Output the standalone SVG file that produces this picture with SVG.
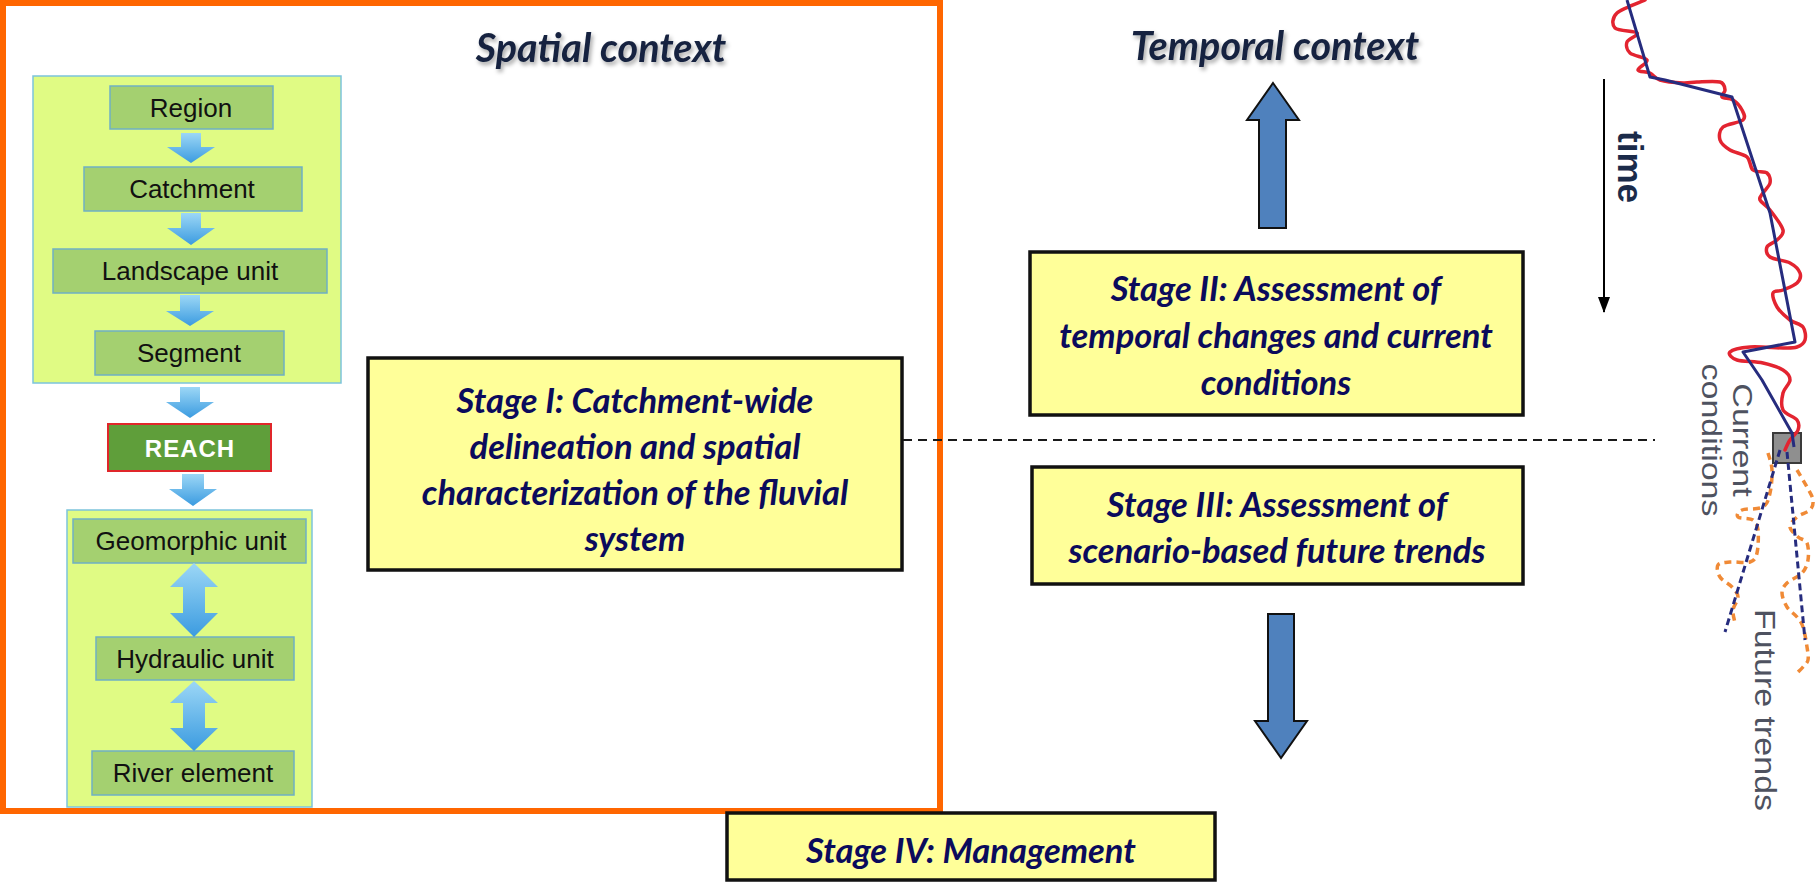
<svg xmlns="http://www.w3.org/2000/svg" width="1816" height="883" viewBox="0 0 1816 883">
  <style>
    .frame { fill: none; stroke: #ff6600; stroke-width: 6; }
    .panel { fill: #e0fb84; stroke: #7cc4dc; stroke-width: 1.5; }
    .unit { fill: #a4d070; stroke: #6fb0c4; stroke-width: 1.5; }
    .unit-text { font-family: "Liberation Sans", Arial, sans-serif; font-size: 26px; fill: #111; text-anchor: middle; }
    .reach { fill: #5f9e3a; stroke: #e0262a; stroke-width: 2; }
    .reach-text { font-family: "Liberation Sans", Arial, sans-serif; font-size: 24px; font-weight: bold; fill: #fff; text-anchor: middle; letter-spacing: 1px; }
    .stage { fill: #ffff99; stroke: #111; stroke-width: 3.5; }
    .stage-text { font-family: "Lato", "Open Sans", sans-serif; font-style: italic; font-weight: bold; font-size: 34.5px; fill: #0b0b5c; text-anchor: middle; }
    .title { font-family: "Lato", "Open Sans", sans-serif; font-style: italic; font-weight: bold; font-size: 39.5px; fill: #17243f; text-anchor: middle; }
    .blue-arrow { fill: url(#flow); }
    .big-arrow { fill: #4f81bd; stroke: #111; stroke-width: 2; }
    .divider { fill: none; stroke: #1a1a1a; stroke-width: 2; stroke-dasharray: 9 6; }
    .time-label { font-family: "Liberation Sans", Arial, sans-serif; font-weight: bold; font-size: 35px; fill: #1b2b4a; }
    .graph-label { font-family: "Liberation Sans", Arial, sans-serif; font-size: 34px; fill: #4e5260; text-anchor: middle; }
    .observed { fill: none; stroke: #e32430; stroke-width: 3.5; stroke-linecap: round; stroke-linejoin: round; }
    .trend { fill: none; stroke: #262c7e; stroke-width: 3; stroke-linejoin: round; }
    .scenario { fill: none; stroke: #f08a36; stroke-width: 3.5; stroke-dasharray: 7 5; }
    .scenario-trend { fill: none; stroke: #262c7e; stroke-width: 3; stroke-dasharray: 7 4; }
  </style>
  <defs>
    <linearGradient id="flow" x1="0" y1="0" x2="0" y2="1">
      <stop offset="0" stop-color="#9cd7f6"/>
      <stop offset="1" stop-color="#3b9be0"/>
    </linearGradient>
    <filter id="shadow" x="-10%" y="-30%" width="120%" height="160%">
      <feDropShadow dx="2" dy="3" stdDeviation="2" flood-color="#000" flood-opacity="0.35"/>
    </filter>
    <marker id="arrowhead" markerWidth="16" markerHeight="12" refX="15" refY="6" orient="auto" markerUnits="userSpaceOnUse" viewBox="0 0 16 12">
      <path d="M0,0 L16,6 L0,12 Z" fill="#000"/>
    </marker>
  </defs>

  <rect width="1816" height="883" fill="#fff"/>

  <!-- spatial frame -->
  <rect class="frame" x="3" y="3" width="937" height="808"/>

  <!-- titles -->
  <text class="title" x="601" y="62" filter="url(#shadow)">Spatial context</text>
  <text class="title" x="1275" y="60" filter="url(#shadow)">Temporal context</text>

  <!-- panels of nested scales -->
  <rect class="panel" x="33" y="76" width="308" height="307"/>
  <rect class="panel" x="67" y="510" width="245" height="297"/>

  <!-- hierarchy units -->
  <g id="region">
    <rect class="unit" x="110" y="86" width="163" height="43"/>
    <text class="unit-text" x="191" y="117">Region</text>
  </g>
  <g id="catchment">
    <rect class="unit" x="84" y="167" width="218" height="44"/>
    <text class="unit-text" x="192" y="198">Catchment</text>
  </g>
  <g id="landscape-unit">
    <rect class="unit" x="53" y="249" width="274" height="44"/>
    <text class="unit-text" x="190" y="280">Landscape unit</text>
  </g>
  <g id="segment">
    <rect class="unit" x="95" y="331" width="189" height="44"/>
    <text class="unit-text" x="189" y="362">Segment</text>
  </g>
  <g id="reach">
    <rect class="reach" x="108" y="424" width="163" height="47"/>
    <text class="reach-text" x="190" y="457">REACH</text>
  </g>
  <g id="geomorphic-unit">
    <rect class="unit" x="73" y="519" width="233" height="44"/>
    <text class="unit-text" x="191" y="550">Geomorphic unit</text>
  </g>
  <g id="hydraulic-unit">
    <rect class="unit" x="96" y="637" width="198" height="43"/>
    <text class="unit-text" x="195" y="668">Hydraulic unit</text>
  </g>
  <g id="river-element">
    <rect class="unit" x="92" y="751" width="202" height="44"/>
    <text class="unit-text" x="193" y="782">River element</text>
  </g>

  <!-- assessment stages -->
  <g id="stage-1">
    <rect class="stage" x="368" y="358" width="534" height="212"/>
    <text class="stage-text" x="635" y="413">Stage I: Catchment-wide</text>
    <text class="stage-text" x="635" y="459">delineation and spatial</text>
    <text class="stage-text" x="635" y="505">characterization of the fluvial</text>
    <text class="stage-text" x="635" y="551">system</text>
  </g>
  <g id="stage-2">
    <rect class="stage" x="1030" y="252" width="493" height="163"/>
    <text class="stage-text" x="1276" y="301">Stage II: Assessment of</text>
    <text class="stage-text" x="1276" y="348">temporal changes and current</text>
    <text class="stage-text" x="1276" y="395">conditions</text>
  </g>
  <g id="stage-3">
    <rect class="stage" x="1032" y="467" width="491" height="117"/>
    <text class="stage-text" x="1277" y="517">Stage III: Assessment of</text>
    <text class="stage-text" x="1277" y="563">scenario-based future trends</text>
  </g>
  <g id="stage-4">
    <rect class="stage" x="727" y="813" width="488" height="67"/>
    <text class="stage-text" x="971" y="863">Stage IV: Management</text>
  </g>

  <!-- connectors -->
  <g id="connectors">
    <!-- downward scale arrows -->
    <path class="blue-arrow" d="M181,133 H201 V147 H215 L191,163 L167,147 H181 Z"/>
    <path class="blue-arrow" d="M181,213 H201 V228 H215 L191,245 L167,228 H181 Z"/>
    <path class="blue-arrow" d="M180,295 H200 V311 H214 L190,326 L166,311 H180 Z"/>
    <path class="blue-arrow" d="M180,387 H200 V402 H214 L190,418 L166,402 H180 Z"/>
    <path class="blue-arrow" d="M182,474 H204 V489 H217 L193,506 L169,489 H182 Z"/>
    <!-- two-way arrows inside the reach -->
    <path class="blue-arrow" d="M194,563 L218,587 H205 V613 H218 L194,637 L170,613 H183 V587 H170 Z"/>
    <path class="blue-arrow" d="M194,681 L218,703 H205 V728 H218 L194,751 L170,728 H183 V703 H170 Z"/>

    <!-- temporal arrows -->
    <path class="big-arrow" d="M1273,83 L1299,120 H1286 V228 H1259 V120 H1247 Z"/>
    <path class="big-arrow" d="M1268,614 H1294 V721 H1307 L1281,758 L1255,721 H1268 Z"/>

    <!-- present-day divider -->
    <line class="divider" x1="903" y1="440" x2="1655" y2="440"/>

    <!-- time axis -->
    <line x1="1604" y1="79" x2="1604" y2="312" stroke="#000" stroke-width="2" marker-end="url(#arrowhead)"/>
  </g>

  <!-- trajectory of channel change -->
  <g id="trajectory">
    <rect x="1773" y="433" width="28" height="30" fill="#8f8f8f" stroke="#3a3a3a" stroke-width="2"/>
    <path class="observed" d="M1645,0 C1640.3,2.2 1622,8.3 1617,13 C1612,17.7 1611.7,24.7 1615,28 C1618.3,31.3 1635,30.7 1637,33 C1639,35.3 1628.2,38.7 1627,42 C1625.8,45.3 1626.7,50 1630,53 C1633.3,56 1645.7,57.2 1647,60 C1648.3,62.8 1637.5,67.8 1638,70 C1638.5,72.2 1646.3,71.3 1650,73 C1653.7,74.7 1654.5,78.3 1660,80 C1665.5,81.7 1676.8,82.7 1683,83 C1689.2,83.3 1690.8,82.2 1697,82 C1703.2,81.8 1715.3,80.7 1720,82 C1724.7,83.3 1724.7,87.5 1725,90 C1725.3,92.5 1720.7,95.3 1722,97 C1723.3,98.7 1729.7,97.8 1733,100 C1736.3,102.2 1740.3,106.7 1742,110 C1743.7,113.3 1746.2,117.2 1743,120 C1739.8,122.8 1726.8,123.7 1723,127 C1719.2,130.3 1718.8,136.2 1720,140 C1721.2,143.8 1725.5,147.2 1730,150 C1734.5,152.8 1743.2,153.7 1747,157 C1750.8,160.3 1749.7,167.3 1753,170 C1756.3,172.7 1764.2,170.8 1767,173 C1769.8,175.2 1770.7,179.7 1770,183 C1769.3,186.3 1764.7,190.2 1763,193 C1761.3,195.8 1758.8,197.2 1760,200 C1761.2,202.8 1766.2,205 1770,210 C1773.8,215 1781.8,225 1783,230 C1784.2,235 1779.7,237.2 1777,240 C1774.3,242.8 1768.2,244.2 1767,247 C1765.8,249.8 1766.2,254.3 1770,257 C1773.8,259.7 1785,260.3 1790,263 C1795,265.7 1798.8,269.7 1800,273 C1801.2,276.3 1799.8,280.2 1797,283 C1794.2,285.8 1787,288.3 1783,290 C1779,291.7 1774,290.2 1773,293 C1772,295.8 1774.2,302.5 1777,307 C1779.8,311.5 1785.7,316.7 1790,320 C1794.3,323.3 1800.5,323.7 1803,327 C1805.5,330.3 1806,336.7 1805,340 C1804,343.3 1800.7,345.7 1797,347 C1793.3,348.3 1790.8,348 1783,348 C1775.2,348 1758.8,346.3 1750,347 C1741.2,347.7 1732.2,349.8 1730,352 C1727.8,354.2 1731.5,358.2 1737,360 C1742.5,361.8 1755.3,361.3 1763,363 C1770.7,364.7 1778.5,367.2 1783,370 C1787.5,372.8 1790,376.2 1790,380 C1790,383.8 1784.2,388 1783,393 C1781.8,398 1780.7,405.5 1783,410 C1785.3,414.5 1794.5,416.7 1797,420 C1799.5,423.3 1799.2,426.7 1798,430 C1796.8,433.3 1792.2,436.7 1790,440 C1787.8,443.3 1785.8,448.3 1785,450"/>
    <polyline class="trend" points="1627,0 1650,77 1665,80 1732,97 1770,213 1795,342 1743,352 1762,380 1792,433 1794,447"/>
    <!-- possible future trajectories -->
    <path class="scenario" d="M1768,453 C1768.7,455.8 1771.7,463.3 1772,470 C1772.3,476.7 1771.5,486.8 1770,493 C1768.5,499.2 1767.7,504.2 1763,507 C1758.3,509.8 1746.2,508.3 1742,510 C1737.8,511.7 1736.2,515.3 1738,517 C1739.8,518.7 1749.7,517.8 1753,520 C1756.3,522.2 1757.3,524.5 1758,530 C1758.7,535.5 1758.3,547.7 1757,553 C1755.7,558.3 1754.5,560.5 1750,562 C1745.5,563.5 1735.3,561.5 1730,562 C1724.7,562.5 1719.7,562.5 1718,565 C1716.3,567.5 1717.7,573.3 1720,577 C1722.3,580.7 1729,583.7 1732,587 C1735,590.3 1737.8,593.2 1738,597 C1738.2,600.8 1733.5,605.7 1733,610 C1732.5,614.3 1734.7,620.8 1735,623"/>
    <path class="scenario" d="M1797,470 C1798.7,472.8 1804.3,482 1807,487 C1809.7,492 1812.5,496.2 1813,500 C1813.5,503.8 1812.7,507.2 1810,510 C1807.3,512.8 1800.3,514.2 1797,517 C1793.7,519.8 1789.8,523.7 1790,527 C1790.2,530.3 1795.2,534.3 1798,537 C1800.8,539.7 1805.3,539.2 1807,543 C1808.7,546.8 1808.8,555 1808,560 C1807.2,565 1805.5,569.2 1802,573 C1798.5,576.8 1790.3,579.7 1787,583 C1783.7,586.3 1782,589 1782,593 C1782,597 1784.5,603 1787,607 C1789.5,611 1794.3,613.7 1797,617 C1799.7,620.3 1801.3,622 1803,627 C1804.7,632 1806.2,641.5 1807,647 C1807.8,652.5 1808.7,656.7 1808,660 C1807.3,663.3 1804.8,664.8 1803,667 C1801.2,669.2 1798,672 1797,673"/>
    <line class="scenario-trend" x1="1780" y1="450" x2="1725" y2="632"/>
    <line class="scenario-trend" x1="1787" y1="452" x2="1805" y2="640"/>
  </g>

  <!-- axis and graph labels -->
  <text class="time-label" transform="translate(1618,131) rotate(90)">time</text>
  <g transform="translate(1733,440) rotate(90) scale(1,0.8)">
    <text class="graph-label" x="0" y="0">Current</text>
    <text class="graph-label" x="0" y="39">conditions</text>
  </g>
  <text class="graph-label" transform="translate(1755,710) rotate(90) scale(1,0.85)">Future trends</text>
</svg>
